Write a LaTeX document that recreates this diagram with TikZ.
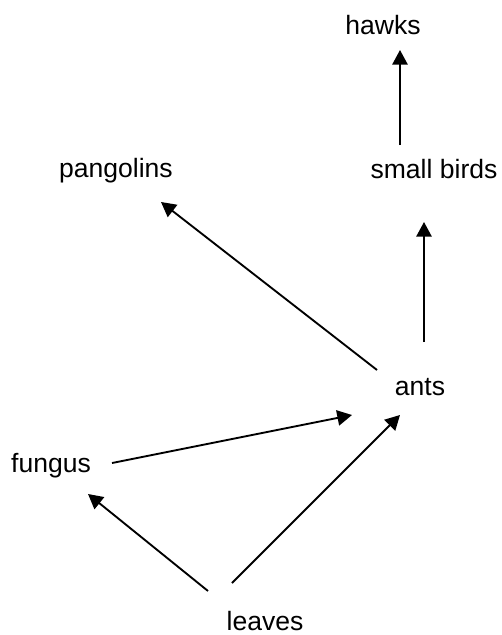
\documentclass[tikz,border=0pt]{standalone}
\usepackage{fontspec}
\setmainfont{Liberation Sans}
\usetikzlibrary{arrows.meta}
\begin{document}
\begin{tikzpicture}[x=0.75pt,y=-0.75pt,
  lbl/.style={anchor=base,inner sep=0pt,font=\fontsize{19.9}{24}\selectfont},
  arr/.style={line width=1.4pt,-{Triangle[length=11pt,width=11.5pt]}}]
\useasboundingbox (0,0) rectangle (501,635);
\node[lbl] (hawks) at (383,35) {hawks};
\node[lbl] (birds) at (434,178) {small birds};
\node[lbl] (pangolins) at (116,177) {pangolins};
\node[lbl] (ants) at (420,395) {ants};
\node[lbl] (fungus) at (51,472) {fungus};
\node[lbl] (leaves) at (265,630) {leaves};
\draw[arr] ([shift={(-34,-33)}]birds.base) -- ([shift={(17,15)}]hawks.base);
\draw[arr] ([shift={(4,-53)}]ants.base) -- ([shift={(-10,44)}]birds.base);
\draw[arr] ([shift={(-43,-25)}]ants.base) -- ([shift={(45,25)}]pangolins.base);
\draw[arr] ([shift={(61,-9)}]fungus.base) -- ([shift={(-68,20)}]ants.base);
\draw[arr] ([shift={(-33,-47)}]leaves.base) -- ([shift={(-20,20)}]ants.base);
\draw[arr] ([shift={(-57,-39)}]leaves.base) -- ([shift={(37,22)}]fungus.base);
\end{tikzpicture}
\end{document}
